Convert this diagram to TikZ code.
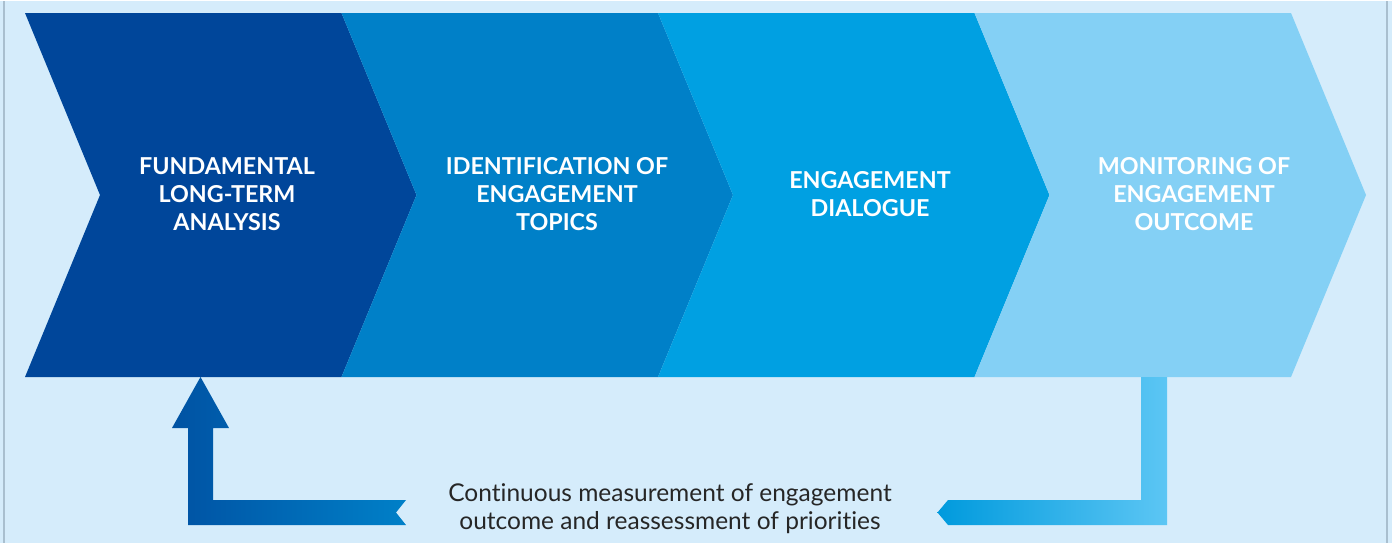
\documentclass[tikz,border=0pt]{standalone}
\usepackage{fontspec}
\setmainfont{Lato}[Ligatures={NoCommon}]
\definecolor{bgblue}{HTML}{D5ECFB}
\definecolor{framegray}{HTML}{A9BFCF}
\definecolor{stepA}{HTML}{00469A}
\definecolor{stepB}{HTML}{0080C8}
\definecolor{stepC}{HTML}{00A0E2}
\definecolor{stepD}{HTML}{84D0F5}
\definecolor{backA}{HTML}{0052A3}
\definecolor{backB}{HTML}{0080C8}
\definecolor{fwdA}{HTML}{009ADD}
\definecolor{fwdB}{HTML}{00B5EC}
\definecolor{fwdC}{HTML}{5CC6F4}

\begin{document}
\begin{tikzpicture}[x=1pt, y=-1pt,
	steptext/.style={text=white, align=center, font=\bfseries\fontsize{23.3}{28}\selectfont},
	looptext/.style={text=black!85, align=center, font=\fontsize{24.5}{28}\selectfont}]
	\fill[bgblue] (0,0) rectangle (1392,542);
	\draw[framegray, line width=2pt] (4,0) -- (4,542) (1386.5,0) -- (1386.5,542);
	% four chevrons
	\foreach \i/\c in {0/stepA, 1/stepB, 2/stepC, 3/stepD}
		\fill[\c] (25+316.5*\i,12) -- ++(316.5,0) -- ++(75,182) -- ++(-75,182) -- ++(-316.5,0) -- ++(75,-182) -- cycle;
	\node[steptext] (analysis) at (227,193) {FUNDAMENTAL\\LONG-TERM\\ANALYSIS};
	\node[steptext] (topics) at (557,193) {IDENTIFICATION OF\\ENGAGEMENT\\TOPICS};
	\node[steptext] (dialogue) at (870,193) {ENGAGEMENT\\DIALOGUE};
	\node[steptext] (outcome) at (1194,193) {MONITORING OF\\ENGAGEMENT\\OUTCOME};
	% feedback loop
	\shade[left color=fwdA, middle color=fwdB, right color=fwdC]
		(1167,376) -- (1167,524) -- (948,524) -- (937.5,511.5) -- (948,499) -- (1141,499) -- (1141,376) -- cycle;
	\shade[left color=backA, right color=backB]
		(188,524) -- (188,427) -- (172,427) -- (200.5,376) -- (229,427) -- (213,427) -- (213,499) -- (406,499) -- (396,511.5) -- (406,524) -- cycle;
	\node[looptext] (loop) at (670,508) {Continuous measurement of engagement\\outcome and reassessment of priorities};
\end{tikzpicture}
\end{document}
